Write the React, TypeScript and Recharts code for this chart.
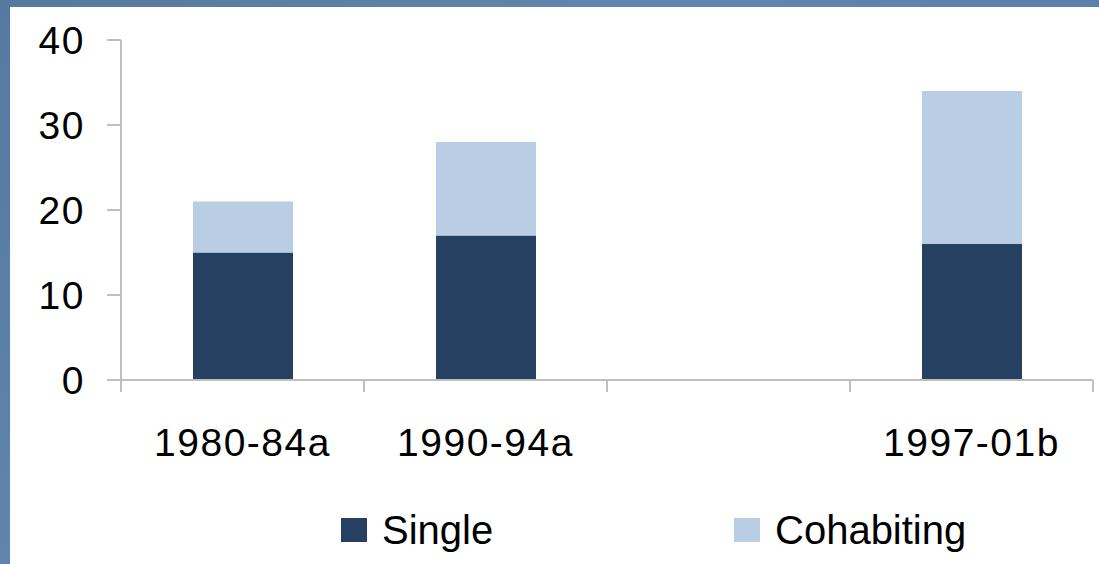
import React from 'react';
import { BarChart, Bar, XAxis, YAxis, Legend } from 'recharts';

const periods = ['1980-84a', '1990-94a', '', '1997-01b'];
const singleValues = [15, 17, null, 16];
const cohabitingValues = [6, 11, null, 18];
const yTicks = [0, 10, 20, 30, 40];

const SERIES = [
    { key: 'Single', color: '#264061' },
    { key: 'Cohabiting', color: '#b9cde5' },
];

const rows = periods.map((p, i) => ({
    period: p,
    Single: singleValues[i],
    Cohabiting: cohabitingValues[i],
}));

const AXIS_FONT = '"Liberation Sans", Arial, sans-serif';
const GRID = '#bfbfbf';

// label at the band centre, tick marks on the band edges (offset = half band)
const XTick = (props: any) => {
    const { x, y, payload } = props;
    const half = payload.offset || 0;
    return (
        <g>
            <line x1={x - half} x2={x - half} y1={y} y2={y + 12} stroke={GRID} strokeWidth={2} />
            <line x1={x + half} x2={x + half} y1={y} y2={y + 12} stroke={GRID} strokeWidth={2} />
            <text x={x} y={y + 76} textAnchor="middle" fontFamily={AXIS_FONT} fontSize={39} letterSpacing={1.5} fill="#000">
                {payload.value}
            </text>
        </g>
    );
};

const YTick = (props: any) => {
    const { y, payload } = props;
    return (
        <text x={85} y={y + 14} textAnchor="end" fontFamily={AXIS_FONT} fontSize={39} letterSpacing={1.5} fill="#000">
            {payload.value}
        </text>
    );
};

const legendLeft = [341, 734];

const LegendBox = () => (
    <div style={{ position: 'relative', width: 1099, height: 60 }}>
        {SERIES.map((s, i) => (
            <div key={s.key} style={{ position: 'absolute', left: legendLeft[i], top: 0, display: 'flex', alignItems: 'center' }}>
                <span style={{ display: 'inline-block', width: 26, height: 24, background: s.color, marginRight: 15 }} />
                <span style={{ fontFamily: AXIS_FONT, fontSize: 40, color: '#000', lineHeight: '40px' }}>{s.key}</span>
            </div>
        ))}
    </div>
);

const App: React.FC = () => {
    return (
        <div style={{ position: 'absolute', left: 0, top: 0, width: 1099, height: 564, overflow: 'hidden',
            background: 'linear-gradient(135deg, #55799f 0%, #6187b0 40%, #5a7fa9 70%, #5f84ad 100%)' }}>
            <div style={{ position: 'absolute', left: 10, top: 7, right: 0, bottom: 0, background: '#fff' }} />
            <div style={{ position: 'absolute', left: 0, top: 0 }}>
                <BarChart width={1099} height={564} data={rows} margin={{ top: 40, right: 6, bottom: 0, left: 0 }}>
                    <XAxis dataKey="period" height={184} axisLine={{ stroke: GRID, strokeWidth: 2 }} tickLine={false}
                        tickSize={0} tickMargin={0} tick={<XTick />} interval={0} />
                    <YAxis domain={[0, 40]} ticks={yTicks} width={121} axisLine={{ stroke: GRID, strokeWidth: 2 }}
                        tickLine={{ stroke: GRID, strokeWidth: 2 }} tickSize={14} tick={<YTick />} />
                    <Legend layout="horizontal" verticalAlign="middle" align="center" content={<LegendBox />}
                        wrapperStyle={{ top: 510, left: 0, width: 1099 }} />
                    {SERIES.map((s) => (
                        <Bar key={s.key} dataKey={s.key} stackId="a" fill={s.color} barSize={100} isAnimationActive={false} />
                    ))}
                </BarChart>
            </div>
        </div>
    );
};

export default App;
